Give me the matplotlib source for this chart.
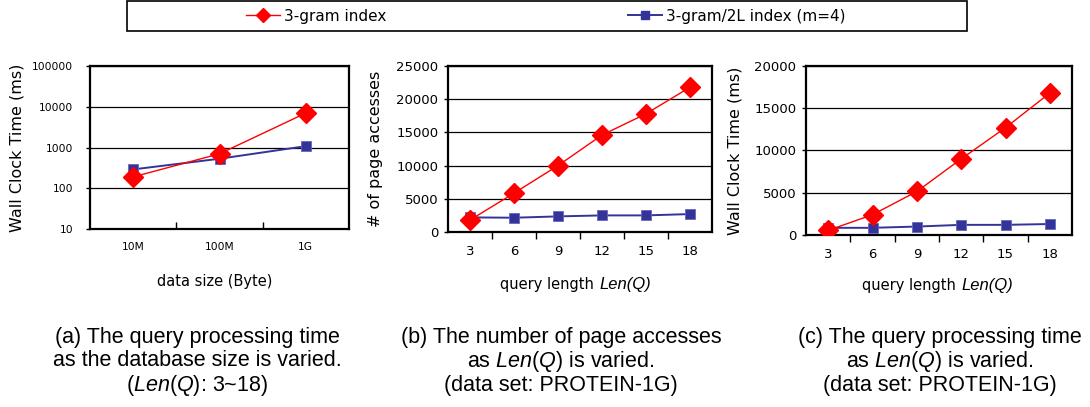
import matplotlib
matplotlib.use("Agg")
import matplotlib.pyplot as plt
import matplotlib.ticker as mticker
from matplotlib.patches import Rectangle
from matplotlib.lines import Line2D

plt.rcParams['font.family'] = ['DejaVu Sans']
plt.rcParams['mathtext.fontset'] = 'custom'
plt.rcParams['mathtext.rm'] = 'Liberation Sans'
plt.rcParams['mathtext.it'] = 'Liberation Sans:italic'

# ---------------- data ----------------
series_names = ["3-gram index", "3-gram/2L index (m=4)"]

a_categories = ["10M", "100M", "1G"]
a_trigram = [190, 700, 7000]
a_twolevel = [290, 530, 1080]

b_categories = ["3", "6", "9", "12", "15", "18"]
b_trigram = [1800, 5850, 10000, 14600, 17800, 21800]
b_twolevel = [2200, 2150, 2350, 2500, 2500, 2700]

c_categories = ["3", "6", "9", "12", "15", "18"]
c_trigram = [550, 2400, 5150, 9000, 12700, 16800]
c_twolevel = [850, 850, 1000, 1200, 1200, 1300]

captions = [
    ["(a) The query processing time", "as the database size is varied.", r"($\mathit{Len(Q)}$: 3~18)"],
    ["(b) The number of page accesses", r"as $\mathit{Len(Q)}$ is varied.", "(data set: PROTEIN-1G)"],
    ["(c) The query processing time", r"as $\mathit{Len(Q)}$ is varied.", "(data set: PROTEIN-1G)"],
]

RED = "#FF0000"
BLUE = "#333399"
CAPFONT = ['Liberation Sans', 'DejaVu Sans']

W, H = 1090, 407
fig = plt.figure(figsize=(W / 100, H / 100), dpi=100)


def px_axes(x0, y0, x1, y1):
    return fig.add_axes([x0 / W, 1 - y1 / H, (x1 - x0) / W, (y1 - y0) / H])


def style(ax, cats, tick_dir, fs):
    n = len(cats)
    ax.set_xlim(-0.5, n - 0.5)
    ax.set_xticks(range(n))
    ax.set_xticklabels(cats, fontsize=fs)
    ax.set_xticks([i + 0.5 for i in range(n - 1)], minor=True)
    ax.tick_params(axis='x', which='major', length=0, pad=9)
    ax.tick_params(axis='x', which='minor', length=5, width=1, direction=tick_dir)
    ax.tick_params(axis='y', which='major', length=3, width=1, labelsize=fs, pad=4)
    ax.tick_params(axis='y', which='minor', length=0)
    for s in ax.spines.values():
        s.set_linewidth(1.6)
        s.set_color('black')
    ax.grid(axis='y', which='major', color='black', linewidth=0.9)
    ax.set_axisbelow(True)


def plot_series(ax, red, blue):
    x = range(len(red))
    ax.plot(x, blue, color=BLUE, lw=1.4, marker='s', markersize=7,
            markerfacecolor=BLUE, markeredgecolor="#6666bb", markeredgewidth=0.6, zorder=3)
    ax.plot(x, red, color=RED, lw=1.0, marker='D', markersize=10,
            markerfacecolor=RED, markeredgecolor=RED, zorder=4)


def len_q_xlabel(ax, ypos, xright):
    ax.set_xlabel("query length", fontsize=10.5, va='center', ha='right')
    ax.xaxis.set_label_coords(xright, ypos)
    ax.annotate("Len(Q)", xy=(1, 0.5), xycoords=ax.xaxis.label, xytext=(4, 0),
                textcoords='offset points', ha='left', va='center',
                fontsize=12, fontstyle='italic', family=CAPFONT, annotation_clip=False)


# ---- panel (a)
axa = px_axes(90, 66, 349, 229)
plot_series(axa, a_trigram, a_twolevel)
axa.set_yscale('log')
axa.set_ylim(10, 100000)
axa.yaxis.set_major_locator(mticker.LogLocator(base=10, numticks=10))
axa.yaxis.set_minor_locator(mticker.NullLocator())
axa.yaxis.set_major_formatter(mticker.FuncFormatter(lambda v, p: f"{int(round(v))}"))
style(axa, a_categories, 'in', 7.7)
axa.tick_params(axis='y', pad=9)
axa.set_ylabel("Wall Clock Time (ms)", fontsize=11.5, va='center')
axa.yaxis.set_label_coords(-0.28, 0.5)
axa.set_xlabel("data size (Byte)", fontsize=10.5, va='center')
axa.xaxis.set_label_coords(0.48, -0.325)

# ---- panel (b)
axb = px_axes(448, 66, 712, 232)
plot_series(axb, b_trigram, b_twolevel)
axb.set_ylim(0, 25000)
axb.yaxis.set_major_locator(mticker.MultipleLocator(5000))
style(axb, b_categories, 'out', 9.5)
axb.set_ylabel("# of page accesses", fontsize=11.5, va='center')
axb.yaxis.set_label_coords(-0.273, 0.5)
len_q_xlabel(axb, -0.319, 0.553)

# ---- panel (c)
axc = px_axes(806, 66, 1072, 235)
plot_series(axc, c_trigram, c_twolevel)
axc.set_ylim(0, 20000)
axc.yaxis.set_major_locator(mticker.MultipleLocator(5000))
style(axc, c_categories, 'out', 9.5)
axc.set_ylabel("Wall Clock Time (ms)", fontsize=11.5, va='center')
axc.yaxis.set_label_coords(-0.267, 0.5)
len_q_xlabel(axc, -0.296, 0.564)

# ---- legend
fig.patches.append(Rectangle((127 / W, 1 - 31 / H), 840 / W, 30 / H, transform=fig.transFigure,
                             fill=False, edgecolor='black', linewidth=1.2))
handles = [
    Line2D([], [], color=RED, lw=1.0, marker='D', markersize=7, markerfacecolor=RED, markeredgecolor=RED),
    Line2D([], [], color=BLUE, lw=1.4, marker='s', markersize=6, markerfacecolor=BLUE, markeredgecolor=BLUE),
]
fig.legend(handles, series_names, loc='center left', bbox_to_anchor=(246 / W, 1 - 16 / H),
           ncol=2, frameon=False, fontsize=11, handlelength=2.2, handletextpad=0.3,
           columnspacing=15.8, borderpad=0, borderaxespad=0)

# ---- captions
cap_x = [197, 561, 940]
cap_y = [337, 361, 386]
for cx, lines in zip(cap_x, captions):
    for cy, line in zip(cap_y, lines):
        fig.text(cx / W, 1 - cy / H, line, ha='center', va='center', fontsize=15.5, family=CAPFONT)

fig.savefig("out.png", dpi=100)
